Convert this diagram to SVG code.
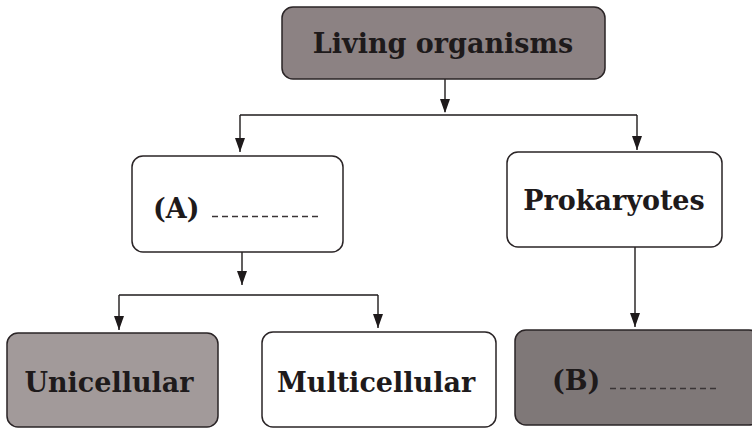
<svg xmlns="http://www.w3.org/2000/svg" width="752" height="428" viewBox="0 0 752 428">
<style>
.box{stroke:#2a2426;stroke-width:1.5}
.lbl{font-family:"DejaVu Serif","Liberation Serif",serif;font-weight:bold;fill:#1e1a1b}
.dash{stroke:#3a3436;stroke-width:1.3;stroke-dasharray:6 4;fill:none}
.ln{stroke:#1e1a1b;stroke-width:1.4;fill:none}
.ah{fill:#1e1a1b}
</style>
<rect width="752" height="428" fill="#ffffff"/>
<g id="connectors">
<path class="ln" d="M445,79 V112"/>
<path class="ah" d="M440,99 L450,99 L445,113 Z"/>
<path class="ln" d="M240,115 H637"/>
<path class="ln" d="M240,115 V152"/>
<path class="ah" d="M235,138 L245,138 L240,152 Z"/>
<path class="ln" d="M637,115 V150"/>
<path class="ah" d="M632,136 L642,136 L637,150 Z"/>
<path class="ln" d="M242,252 V285"/>
<path class="ah" d="M237,271 L247,271 L242,285 Z"/>
<path class="ln" d="M119,295 H378"/>
<path class="ln" d="M119,295 V330"/>
<path class="ah" d="M114,316 L124,316 L119,330 Z"/>
<path class="ln" d="M378,295 V328"/>
<path class="ah" d="M373,314 L383,314 L378,328 Z"/>
<path class="ln" d="M635,247 V327"/>
<path class="ah" d="M630,313 L640,313 L635,327 Z"/>
</g>
<g id="living">
<rect class="box" x="282" y="7" width="323" height="72" rx="11" fill="#8c8283"/>
<text class="lbl" x="443" y="53" font-size="27" text-anchor="middle">Living organisms</text>
</g>
<g id="nodeA">
<rect class="box" x="132" y="156" width="211" height="96" rx="11" fill="#ffffff"/>
<text class="lbl" x="153" y="218" font-size="27">(A)</text>
<path class="dash" d="M212,216.5 H320"/>
</g>
<g id="prokaryotes">
<rect class="box" x="507" y="152" width="215" height="95" rx="11" fill="#ffffff"/>
<text class="lbl" x="614" y="210" font-size="27" text-anchor="middle">Prokaryotes</text>
</g>
<g id="unicellular">
<rect class="box" x="7" y="333" width="211" height="94" rx="11" fill="#a29a9a"/>
<text class="lbl" x="109" y="392" font-size="27" text-anchor="middle">Unicellular</text>
</g>
<g id="multicellular">
<rect class="box" x="262" y="332" width="234" height="95" rx="11" fill="#ffffff"/>
<text class="lbl" x="376" y="392" font-size="27" text-anchor="middle">Multicellular</text>
</g>
<g id="nodeB">
<rect class="box" x="515" y="330" width="245" height="95" rx="11" fill="#7f7878"/>
<text class="lbl" x="552" y="390" font-size="27">(B)</text>
<path class="dash" d="M610,388.5 H718"/>
</g>
</svg>
